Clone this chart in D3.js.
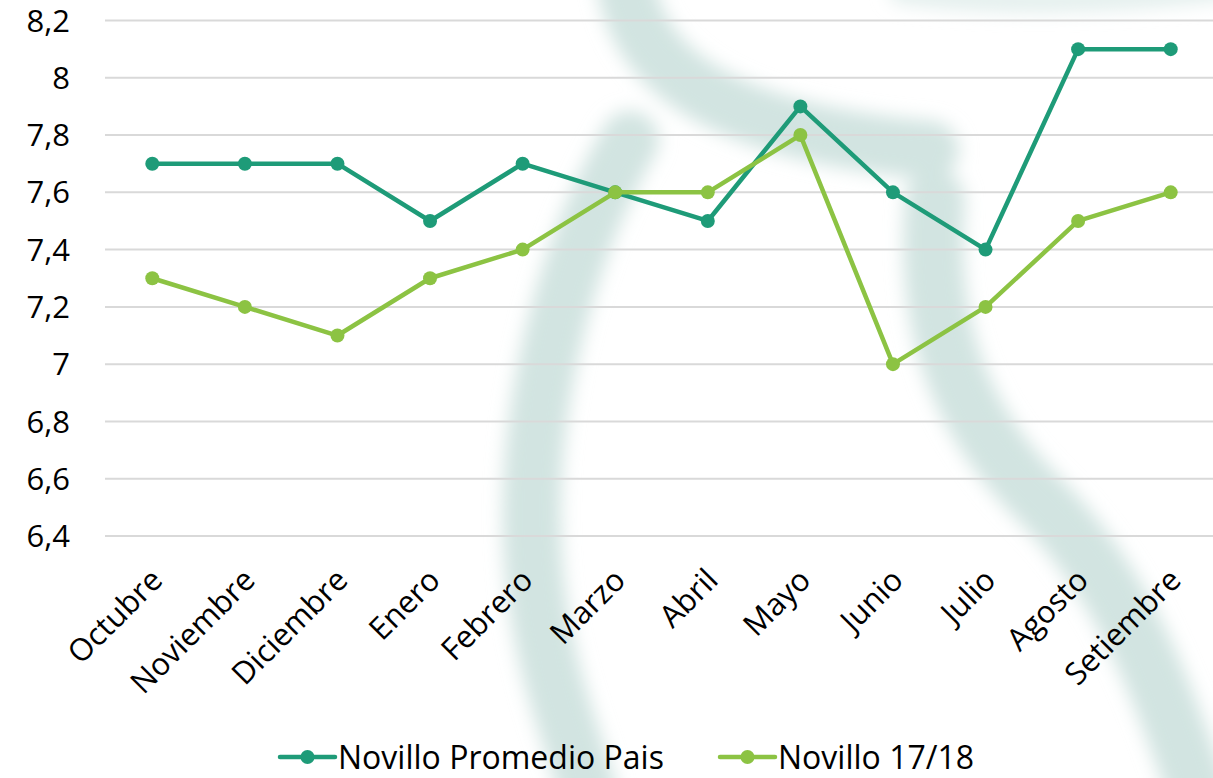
<html lang="es">
<head>
    <meta charset="UTF-8">
    <title>Novillo</title>
    <script src="https://d3js.org/d3.v7.js"></script>
    <style>
        body { margin: 0; background: #fff; }
        text { font-family: "Open Sans", sans-serif; fill: #000; }
    </style>
</head>
<body>
    <div id="chart"></div>
    <script>
        // data
        const months = ["Octubre", "Noviembre", "Diciembre", "Enero", "Febrero", "Marzo",
            "Abril", "Mayo", "Junio", "Julio", "Agosto", "Setiembre"];
        const promedioPais = [7.7, 7.7, 7.7, 7.5, 7.7, 7.6, 7.5, 7.9, 7.6, 7.4, 8.1, 8.1];
        const novillo1718 = [7.3, 7.2, 7.1, 7.3, 7.4, 7.6, 7.6, 7.8, 7.0, 7.2, 7.5, 7.6];
        const yTicks = [6.4, 6.6, 6.8, 7, 7.2, 7.4, 7.6, 7.8, 8, 8.2];
        const seriesNames = ["Novillo Promedio Pais", "Novillo 17/18"];
        const seriesColors = ["#1e9b78", "#8cc343"];

        const width = 1213, height = 778;
        const svg = d3.select("#chart").append("svg")
            .attr("width", width)
            .attr("height", height);

        // faint watermark in the background
        const defs = svg.append("defs");
        defs.append("filter").attr("id", "blur")
            .attr("x", "-20%").attr("y", "-20%").attr("width", "140%").attr("height", "140%")
            .append("feGaussianBlur").attr("stdDeviation", 9);
        const wm = svg.append("g").attr("filter", "url(#blur)")
            .attr("fill", "none").attr("stroke", "#d2e4e1").attr("stroke-linecap", "round");
        wm.append("path").attr("stroke-width", 58)
            .attr("d", "M 625,-20 C 640,90 760,135 930,150");
        wm.append("path").attr("stroke-width", 58)
            .attr("d", "M 630,140 C 560,260 520,430 535,580 C 545,680 575,740 590,800");
        wm.append("path").attr("stroke-width", 60)
            .attr("d", "M 935,200 C 925,330 960,420 1040,500 C 1120,580 1160,680 1200,800");
        wm.append("path").attr("stroke-width", 22).attr("stroke", "#e2eeec")
            .attr("d", "M 900,-8 C 1000,6 1120,2 1230,-12");

        const x = d3.scaleBand().domain(months).range([106, 1217]);
        const y = d3.scaleLinear().domain([6.4, 8.2]).range([536, 20.5]);

        // gridlines
        svg.append("g")
            .selectAll("line")
            .data(yTicks)
            .join("line")
            .attr("x1", 105)
            .attr("x2", 1213)
            .attr("y1", d => y(d))
            .attr("y2", d => y(d))
            .attr("stroke", "#d9d9d9")
            .attr("stroke-width", 2);

        // y axis labels
        const fmt = d => String(d).replace(".", ",");
        svg.append("g")
            .selectAll("text")
            .data(yTicks)
            .join("text")
            .attr("x", 70)
            .attr("y", d => y(d))
            .attr("dy", "0.36em")
            .attr("text-anchor", "end")
            .style("font-size", "31px")
            .text(fmt);

        // x axis labels
        svg.append("g")
            .selectAll("text")
            .data(months)
            .join("text")
            .attr("text-anchor", "end")
            .attr("transform", d => `translate(${x(d) + x.bandwidth() / 2 + 12},${582}) rotate(-45)`)
            .style("font-size", "31px")
            .text(d => d);

        // lines + markers
        const cx = i => x(months[i]) + x.bandwidth() / 2;
        const line = d3.line().x((d, i) => cx(i)).y(d => y(d));
        [promedioPais, novillo1718].forEach((values, s) => {
            const g = svg.append("g");
            g.append("path")
                .datum(values)
                .attr("d", line)
                .attr("fill", "none")
                .attr("stroke", seriesColors[s])
                .attr("stroke-width", 4.5)
                .attr("stroke-linejoin", "round");
            g.selectAll("circle")
                .data(values)
                .join("circle")
                .attr("cx", (d, i) => cx(i))
                .attr("cy", d => y(d))
                .attr("r", 7)
                .attr("fill", seriesColors[s]);
        });

        // legend
        const legendX = [280, 720];
        const legend = svg.append("g")
            .selectAll("g")
            .data(seriesNames)
            .join("g")
            .attr("transform", (d, i) => `translate(${legendX[i]},757)`);
        legend.append("line")
            .attr("x1", 0).attr("x2", 55)
            .attr("stroke", (d, i) => seriesColors[i])
            .attr("stroke-width", 4.5)
            .attr("stroke-linecap", "round");
        legend.append("circle")
            .attr("cx", 27.5).attr("r", 7)
            .attr("fill", (d, i) => seriesColors[i]);
        legend.append("text")
            .attr("x", 58)
            .attr("dy", "0.36em")
            .style("font-size", "32px")
            .text(d => d);
    </script>
</body>
</html>
